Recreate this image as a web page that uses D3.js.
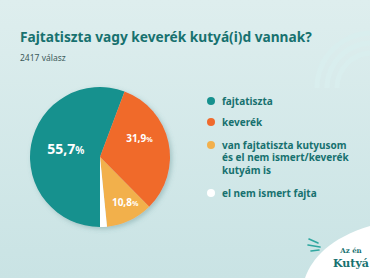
<!DOCTYPE html>
<html>
<head>
<meta charset="utf-8">
<script src="https://cdn.jsdelivr.net/npm/d3@7"></script>
<style>
  html, body { margin: 0; padding: 0; }
  body { width: 370px; height: 278px; overflow: hidden; font-family: "Noto Sans", sans-serif; }
</style>
</head>
<body>
<div id="chart"></div>
<script>
// Fajtatiszta vagy keverék – kördiagram, 2417 válasz
const categories = ['fajtatiszta', 'keverék', 'van fajtatiszta kutyusom és el nem ismert/keverék kutyám is', 'el nem ismert fajta'];
const values = [55.7, 31.9, 10.8, 1.6];
const legendLines = [['fajtatiszta'], ['keverék'], ['van fajtatiszta kutyusom', 'és el nem ismert/keverék', 'kutyám is'], ['el nem ismert fajta']];
const colors = ['#16918e', '#f06a2c', '#f2b04c', '#ffffff'];

const width = 370, height = 278;
const dark = '#17716f';

const svg = d3.select('#chart').append('svg')
  .attr('width', width).attr('height', height);

const defs = svg.append('defs');
const bg = defs.append('linearGradient').attr('id', 'bg').attr('x1', 0).attr('y1', 0).attr('x2', 0).attr('y2', 1);
bg.append('stop').attr('offset', '0%').attr('stop-color', '#deeeee');
bg.append('stop').attr('offset', '100%').attr('stop-color', '#c9e3e4');
const sh = defs.append('filter').attr('id', 'shadow').attr('x', '-20%').attr('y', '-20%').attr('width', '140%').attr('height', '140%');
sh.append('feDropShadow').attr('dx', 2).attr('dy', 2).attr('stdDeviation', 2.5)
  .attr('flood-color', '#4a7f80').attr('flood-opacity', 0.35);

svg.append('rect').attr('width', width).attr('height', height).attr('fill', 'url(#bg)');

// díszítő ívek jobb fent
[55, 45, 35].forEach(r => {
  svg.append('path')
    .attr('transform', 'translate(372,88)')
    .attr('d', d3.arc()({ innerRadius: r - 2.5, outerRadius: r + 2.5, startAngle: -Math.PI / 2, endAngle: 0 }))
    .attr('fill', '#d9eeee');
});

// cím
svg.append('text').attr('x', 20).attr('y', 42)
  .attr('fill', dark).attr('font-size', '13.7px').attr('font-weight', 700)
  .text('Fajtatiszta vagy keverék kutyá(i)d vannak?');
svg.append('text').attr('x', 20).attr('y', 61)
  .attr('fill', '#3c5a5a').attr('font-size', '8.5px')
  .text('2417 válasz');

// kördiagram
const cx = 100, cy = 157, R = 70;
const pie = d3.pie().sort(null).value(d => d).startAngle(-Math.PI).endAngle(Math.PI);
const arcs = pie(values);
const arc = d3.arc().innerRadius(0).outerRadius(R);

const g = svg.append('g').attr('transform', `translate(${cx},${cy})`);
g.append('g').attr('filter', 'url(#shadow)')
  .selectAll('path').data(arcs).join('path')
  .attr('d', arc)
  .attr('fill', (d, i) => colors[i]);

// címkék helye: sugár aránya és a szeleten belüli szöghelyzet
const labelR = [0.5, 0.62, 0.74];
const labelPos = [0.51, 0.39, 0.4];
const labelSize = [14, 10, 10];
arcs.slice(0, 3).forEach((d, i) => {
  const a = d.startAngle + (d.endAngle - d.startAngle) * labelPos[i];
  const x = Math.sin(a) * R * labelR[i], y = -Math.cos(a) * R * labelR[i];
  const t = g.append('text')
    .attr('x', x).attr('y', y)
    .attr('dy', '0.35em')
    .attr('text-anchor', 'middle')
    .attr('fill', '#ffffff').attr('font-weight', 700)
    .attr('font-size', labelSize[i] + 'px');
  t.append('tspan').text(d.data.toFixed(1).replace('.', ','));
  t.append('tspan').attr('font-size', (labelSize[i] * 0.72) + 'px').text('%');
});

// jelmagyarázat
const legendY = [101, 122, 145, 193];
const leg = svg.append('g');
legendLines.forEach((lines, i) => {
  leg.append('circle').attr('cx', 211).attr('cy', legendY[i]).attr('r', 4)
    .attr('fill', colors[i]);
  const t = leg.append('text').attr('x', 222).attr('y', legendY[i] + 3.5)
    .attr('fill', dark).attr('font-size', '10px').attr('font-weight', 700);
  lines.forEach((ln, j) => {
    t.append('tspan').attr('x', 222).attr('dy', j === 0 ? 0 : 12.5).text(ln);
  });
});

// logó jobb lent
svg.append('path')
  .attr('d', 'M305,278 C312,258 330,238 370,226 L370,278 Z')
  .attr('fill', '#ffffff');
[[309, 239, 318, 243], [308, 245, 320, 247], [311, 251, 319, 250]].forEach(p => {
  svg.append('line').attr('x1', p[0]).attr('y1', p[1]).attr('x2', p[2]).attr('y2', p[3])
    .attr('stroke', '#2fa7a0').attr('stroke-width', 1.6).attr('stroke-linecap', 'round');
});
svg.append('text').attr('x', 351).attr('y', 253).attr('text-anchor', 'middle')
  .attr('fill', dark).attr('font-size', '7px').attr('font-family', 'DejaVu Serif').attr('font-weight', 700)
  .text('Az én');
svg.append('text').attr('x', 333).attr('y', 267)
  .attr('fill', dark).attr('font-size', '11px').attr('font-family', 'DejaVu Serif').attr('font-weight', 700)
  .text('Kutyá');
</script>
</body>
</html>
